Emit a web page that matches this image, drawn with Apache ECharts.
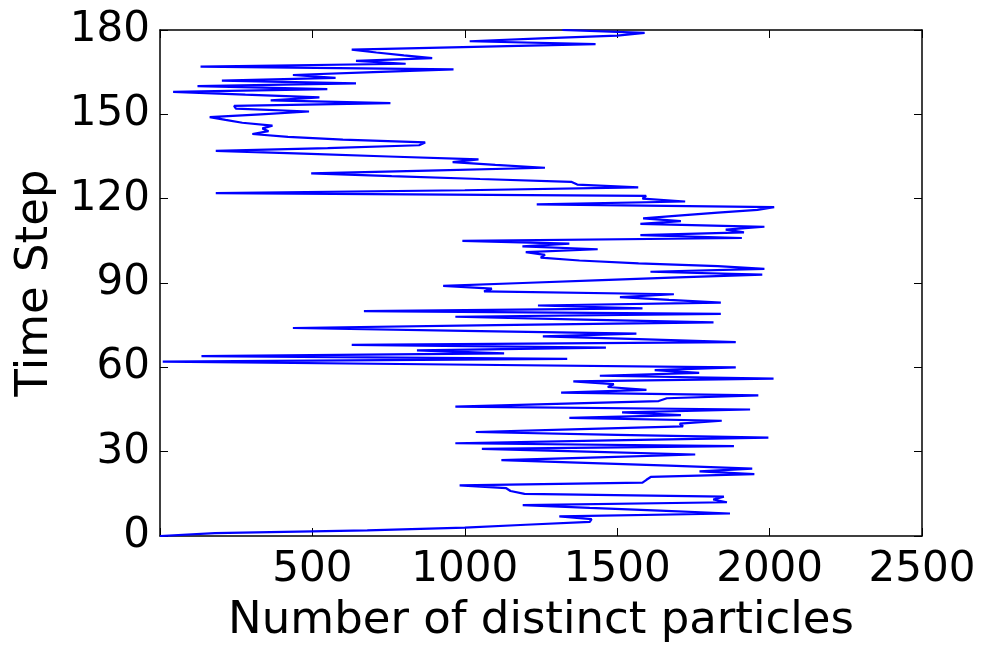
<!DOCTYPE html>
<html>
<head>
<meta charset="utf-8">
<script src="https://cdn.jsdelivr.net/npm/echarts@6/dist/echarts.min.js"></script>
<style>
  html, body { margin: 0; padding: 0; background: #fff; }
  #main { width: 987px; height: 649px; }
</style>
</head>
<body>
<div id="main"></div>
<script>
// particle count per time step (t = 0..180)
var particles = [
  0, 180, 680, 1000, 1200, 1410, 1416, 1310, 1870, 1640,
  1410, 1190, 1860, 1815, 1850, 1196, 1150, 1136, 983, 1583,
  1596, 1610, 1950, 1770, 1943, 1670, 1395, 1120, 1440, 1756,
  1400, 1056, 1883, 969, 1480, 1996, 1500, 1036, 1380, 1716,
  1705, 1843, 1343, 1709, 1516, 1936, 969, 1300, 1636, 1663,
  1963, 1316, 1596, 1469, 1489, 1356, 2013, 1443, 1769, 1623,
  1889, 950, 9, 1336, 136, 1129, 843, 1463, 629, 1889,
  1570, 1256, 1563, 1000, 436, 1100, 1816, 1390, 969, 1840,
  669, 1583, 1240, 1840, 1670, 1509, 1686, 1063, 1089, 929,
  1190, 1450, 1700, 1976, 1609, 1983, 1830, 1570, 1376, 1249,
  1263, 1200, 1436, 1189, 1343, 992, 1909, 1576, 1916, 1856,
  1983, 1576, 1709, 1585, 1700, 1830, 1960, 2015, 1236, 1723,
  1583, 1595, 183, 1000, 1569, 1369, 1349, 1050, 760, 496,
  880, 1263, 1100, 960, 1045, 750, 470, 183, 550, 850,
  870, 600, 420, 303, 356, 336, 369, 270, 215, 163,
  330, 489, 249, 243, 756, 363, 523, 280, 43, 549,
  123, 643, 203, 576, 436, 700, 963, 133, 806, 643,
  893, 800, 710, 629, 1030, 1429, 1016, 1250, 1500, 1590,
  1320
];
var steps = particles.map(function (v, i) { return i; });

var xMin = 0, xMax = 2500, xStep = 500;
var yMin = 0, yMax = 180, yStep = 30;

var chart = echarts.init(document.getElementById('main'));

var font = 'DejaVu Sans';
var tickStyle = { show: true, inside: true, length: 8, lineStyle: { color: '#000', width: 1 } };
var lineStyle = { show: true, onZero: false, lineStyle: { color: '#000', width: 1.5 } };

var option = {
  animation: false,
  grid: { left: 160, right: 65, top: 30, bottom: 110, containLabel: false },
  xAxis: [
    {
      type: 'value', min: xMin, max: xMax, interval: xStep,
      position: 'bottom',
      name: 'Number of distinct particles',
      nameLocation: 'middle', nameGap: 63,
      nameTextStyle: { fontFamily: font, fontSize: 45, color: '#000', verticalAlign: 'top' },
      axisLine: lineStyle, axisTick: tickStyle, splitLine: { show: false },
      axisLabel: {
        fontFamily: font, fontSize: 42, color: '#000', margin: 13,
        formatter: function (v) { return v === 0 ? '' : v; }
      }
    },
    {
      type: 'value', min: xMin, max: xMax, interval: xStep,
      position: 'top',
      axisLine: lineStyle, axisTick: tickStyle, splitLine: { show: false },
      axisLabel: { show: false }
    }
  ],
  yAxis: [
    {
      type: 'value', min: yMin, max: yMax, interval: yStep,
      position: 'left',
      name: 'Time Step',
      nameLocation: 'middle', nameGap: 102, nameRotate: 90,
      nameTextStyle: { fontFamily: font, fontSize: 45, color: '#000' },
      axisLine: lineStyle, axisTick: tickStyle, splitLine: { show: false },
      axisLabel: { fontFamily: font, fontSize: 42, color: '#000', margin: 10 }
    },
    {
      type: 'value', min: yMin, max: yMax, interval: yStep,
      position: 'right',
      axisLine: lineStyle, axisTick: tickStyle, splitLine: { show: false },
      axisLabel: { show: false }
    }
  ],
  series: [
    {
      type: 'line',
      data: steps.map(function (t, i) { return [particles[i], t]; }),
      showSymbol: false,
      symbol: 'none',
      lineStyle: { color: '#0000ff', width: 2.2 },
      clip: true
    }
  ]
};

chart.setOption(option);
</script>
</body>
</html>
